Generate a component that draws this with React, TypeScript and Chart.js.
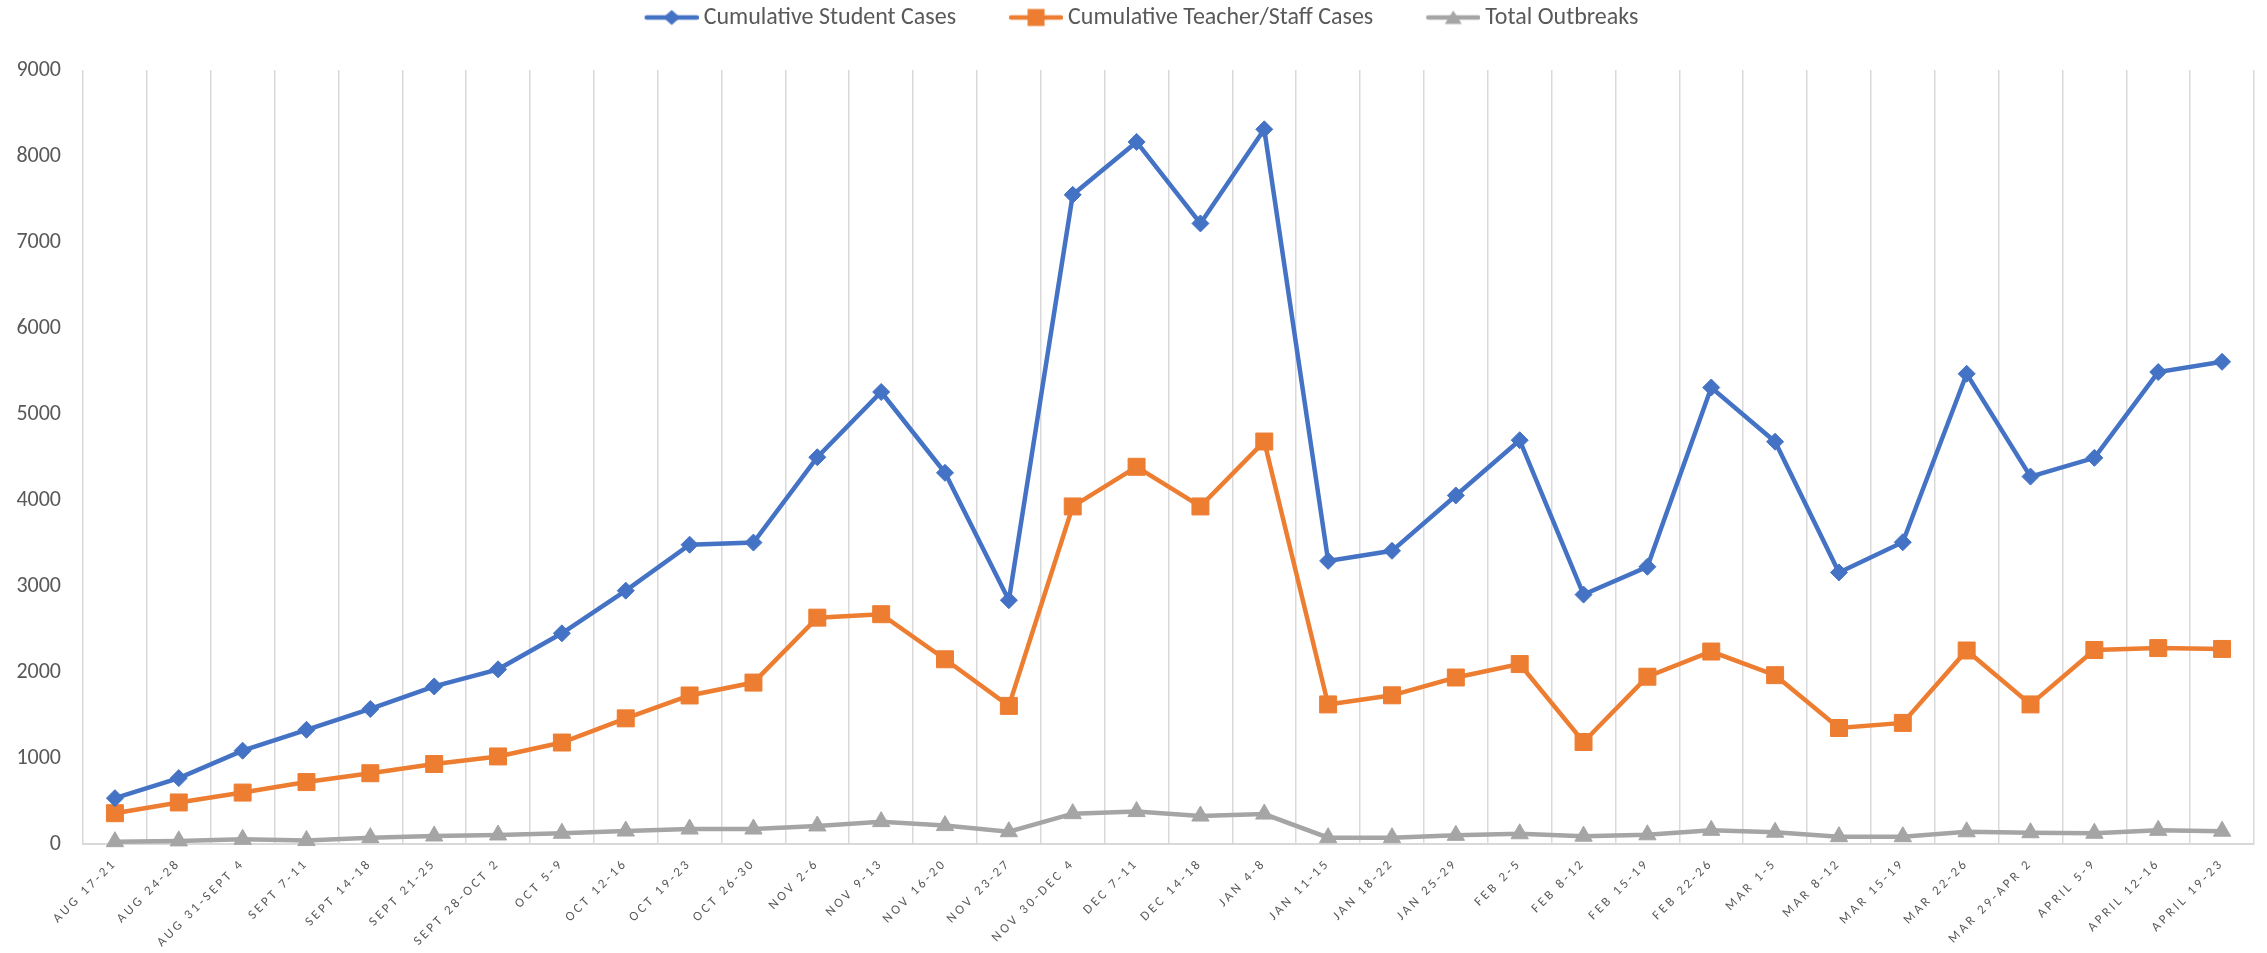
import React, { useEffect, useRef } from 'react';
import { Chart, registerables } from 'chart.js';

Chart.register(...registerables);

const categories = [
  'AUG 17-21', 'AUG 24-28', 'AUG 31-SEPT 4', 'SEPT 7-11', 'SEPT 14-18', 'SEPT 21-25',
  'SEPT 28-OCT 2', 'OCT 5-9', 'OCT 12-16', 'OCT 19-23', 'OCT 26-30', 'NOV 2-6', 'NOV 9-13',
  'NOV 16-20', 'NOV 23-27', 'NOV 30-DEC 4', 'DEC 7-11', 'DEC 14-18', 'JAN 4-8', 'JAN 11-15',
  'JAN 18-22', 'JAN 25-29', 'FEB 2-5', 'FEB 8-12', 'FEB 15-19', 'FEB 22-26', 'MAR 1-5',
  'MAR 8-12', 'MAR 15-19', 'MAR 22-26', 'MAR 29-APR 2', 'APRIL 5-9', 'APRIL 12-16', 'APRIL 19-23',
];

const studentCases = [
  533, 766, 1085, 1328, 1570, 1832, 2031, 2450, 2946, 3480, 3505, 4497, 5256, 4316, 2835,
  7549, 8164, 7216, 8310, 3292, 3409, 4053, 4695, 2900, 3224, 5308, 4678, 3158, 3509, 5468,
  4272, 4490, 5488, 5607,
];

const teacherCases = [
  358, 483, 598, 720, 823, 930, 1018, 1180, 1461, 1727, 1877, 2632, 2672, 2148, 1606,
  3925, 4386, 3925, 4680, 1623, 1729, 1936, 2092, 1186, 1945, 2238, 1963, 1349, 1408, 2250,
  1623, 2256, 2278, 2268,
];

const outbreaks = [
  27, 36, 55, 40, 74, 93, 105, 125, 151, 174, 174, 210, 260, 214, 143,
  353, 377, 325, 348, 73, 73, 101, 119, 91, 107, 159, 137, 85, 85, 142,
  131, 125, 159, 149,
];

const seriesNames = ['Cumulative Student Cases', 'Cumulative Teacher/Staff Cases', 'Total Outbreaks'];
const seriesColors = ['#4472C4', '#ED7D31', '#A5A5A5'];
const seriesShapes = ['diamond', 'square', 'triangle'];

const yMin = 0;
const yMax = 9000;
const yStep = 1000;

const TEXT_COLOR = '#595959';
const GRID_COLOR = '#D9D9D9';
const FONT_FAMILY = 'Carlito, Lato, "Open Sans", sans-serif';

function makeLegendIcon(color: string, shape: string): HTMLCanvasElement {
  const c = document.createElement('canvas');
  c.width = 90;
  c.height = 22;
  const g = c.getContext('2d') as CanvasRenderingContext2D;
  g.strokeStyle = color;
  g.lineWidth = 4.5;
  g.lineCap = 'round';
  g.beginPath();
  g.moveTo(38, 11);
  g.lineTo(88, 11);
  g.stroke();
  g.fillStyle = color;
  const cx = 63;
  const cy = 11;
  g.beginPath();
  if (shape === 'diamond') {
    g.moveTo(cx, cy - 7.5);
    g.lineTo(cx + 8.5, cy);
    g.lineTo(cx, cy + 7.5);
    g.lineTo(cx - 8.5, cy);
    g.closePath();
  } else if (shape === 'square') {
    g.rect(cx - 8.5, cy - 8.5, 17, 17);
  } else {
    g.moveTo(cx, cy - 7);
    g.lineTo(cx + 8.5, cy + 6.5);
    g.lineTo(cx - 8.5, cy + 6.5);
    g.closePath();
  }
  g.fill();
  return c;
}

export default function App() {
  const canvasRef = useRef<HTMLCanvasElement | null>(null);

  useEffect(() => {
    const canvas = canvasRef.current;
    if (!canvas) return;

    const icons = seriesColors.map((c, i) => makeLegendIcon(c, seriesShapes[i]));

    const layoutPlugin = {
      id: 'layoutTweaks',
      beforeLayout(chart: any) {
        const lg = chart.legend;
        if (lg && !lg.__patched) {
          const origFit = lg.fit;
          lg.fit = function () {
            origFit.call(this);
            this.height = 88.5;
          };
          lg.__patched = true;
        }
      },
      beforeDraw(chart: any) {
        const sc = chart.scales.x;
        if (sc && !sc.__patched) {
          const orig = sc.drawLabels;
          sc.drawLabels = function (area: any) {
            const ctx = chart.ctx;
            ctx.save();
            (ctx as any).letterSpacing = '3px';
            orig.call(this, area);
            ctx.restore();
          };
          sc.__patched = true;
        }
      },
    };

    const mkDataset = (i: number, data: number[], style: string, radius: number) => ({
      label: seriesNames[i],
      data,
      borderColor: seriesColors[i],
      backgroundColor: seriesColors[i],
      borderWidth: 4.5,
      pointStyle: style,
      pointRadius: radius,
      pointHoverRadius: radius,
      pointBackgroundColor: seriesColors[i],
      pointBorderColor: seriesColors[i],
      pointBorderWidth: 1,
      tension: 0,
      clip: false as any,
    });

    const chart = new Chart(canvas, {
      type: 'line',
      data: {
        labels: categories,
        datasets: [
          mkDataset(0, studentCases, 'rectRot', 8.5),
          mkDataset(1, teacherCases, 'rect', 12),
          mkDataset(2, outbreaks, 'triangle', 10),
        ],
      },
      options: {
        animation: false,
        responsive: false,
        devicePixelRatio: 1,
        layout: { padding: { top: -18.5, right: 13, bottom: 0, left: 0 } },
        plugins: {
          tooltip: { enabled: false },
          legend: {
            display: true,
            position: 'top',
            labels: {
              usePointStyle: true,
              pointStyleWidth: 76,
              padding: 24,
              color: TEXT_COLOR,
              font: { family: FONT_FAMILY, size: 24 },
              generateLabels: () =>
                seriesNames.map((name, i) => ({
                  text: name,
                  fillStyle: seriesColors[i],
                  strokeStyle: seriesColors[i],
                  lineWidth: 0,
                  pointStyle: icons[i] as any,
                  hidden: false,
                  datasetIndex: i,
                  fontColor: TEXT_COLOR,
                })),
            },
          },
        },
        scales: {
          x: {
            type: 'category',
            offset: true,
            grid: {
              display: true,
              offset: true,
              color: GRID_COLOR,
              lineWidth: 1.5,
              drawTicks: false,
            },
            border: { display: true, color: GRID_COLOR, width: 2 },
            ticks: {
              autoSkip: false,
              maxRotation: 45,
              minRotation: 45,
              padding: 12,
              color: TEXT_COLOR,
              font: { family: FONT_FAMILY, size: 13 },
            },
            afterFit: (s: any) => {
              s.height = 109;
            },
          },
          y: {
            min: yMin,
            max: yMax,
            grid: { display: false, drawTicks: false },
            border: { display: false },
            ticks: {
              stepSize: yStep,
              padding: 22,
              color: TEXT_COLOR,
              font: { family: FONT_FAMILY, size: 22 },
              callback: (v: any) => String(v),
            },
            afterFit: (s: any) => {
              s.width = 83;
            },
          },
        },
      },
      plugins: [layoutPlugin as any],
    });

    return () => {
      chart.destroy();
    };
  }, []);

  return (
    <div style={{ position: 'absolute', left: 0, top: 0, width: 2267, height: 953, background: '#fff' }}>
      <canvas ref={canvasRef} width={2267} height={953} style={{ display: 'block', width: 2267, height: 953 }} />
    </div>
  );
}
